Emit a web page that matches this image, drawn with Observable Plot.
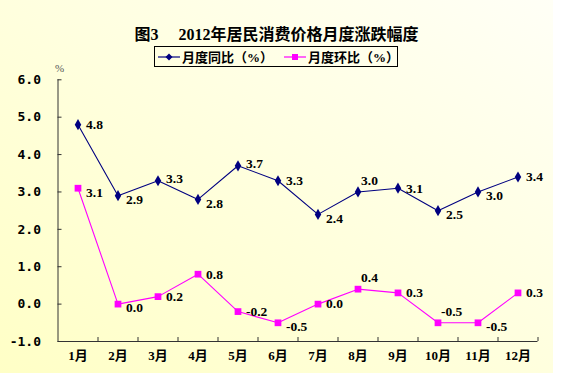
<!DOCTYPE html>
<html><head><meta charset="utf-8">
<script src="https://cdn.jsdelivr.net/npm/d3@7"></script>
<script src="https://cdn.jsdelivr.net/npm/@observablehq/plot@0.6"></script>
<style>
body{margin:0;background:#fff;width:566px;height:377px;overflow:hidden;position:relative;}
#bg{position:absolute;left:0;top:0;width:553px;height:373px;background:linear-gradient(to bottom left,#FFFFF6,#FFFFC6);}
#title{position:absolute;left:0;width:553px;top:21px;text-align:center;white-space:pre;font:bold 16px "Liberation Serif","Noto Sans CJK SC";color:#000;}
#pct{position:absolute;left:55px;top:62px;font:11px "Liberation Serif","Noto Sans CJK SC";color:#555;}
#legend{position:absolute;left:154px;top:46px;width:242px;height:19px;border:1px solid #000;display:flex;align-items:center;font:bold 13px "Liberation Serif","Noto Sans CJK SC";white-space:nowrap;}
#legend .it{display:flex;align-items:center;margin-left:3px;margin-right:8px;}
#legend svg{margin-right:2px;}
#chart{position:absolute;left:0;top:70px;}
</style></head>
<body>
<div id="bg"></div>
<div id="title">图3　 2012年居民消费价格月度涨跌幅度</div>
<div id="pct">%</div>
<div id="legend"></div>
<div id="chart"></div>
<script>
const months = ["1月","2月","3月","4月","5月","6月","7月","8月","9月","10月","11月","12月"];
const yoy = [4.8, 2.9, 3.3, 2.8, 3.7, 3.3, 2.4, 3.0, 3.1, 2.5, 3.0, 3.4];
const mom = [3.1, 0.0, 0.2, 0.8, -0.2, -0.5, 0.0, 0.4, 0.3, -0.5, -0.5, 0.3];
const seriesNames = ["月度同比（%）", "月度环比（%）"];
const seriesColors = ["#000080", "#FF00FF"];
const yTicks = [-1, 0, 1, 2, 3, 4, 5, 6];
// label placement (style only): r = right, b = right-below, u = right-up, a = above
const yoyPlace = ["r","b","u","b","u","r","b","a","r","b","b","r"];
const momPlace = ["b","b","r","r","r","b","r","a","r","a","b","r"];

// legend
const legend = document.getElementById("legend");
seriesNames.forEach((name, i) => {
  const it = document.createElement("span");
  it.className = "it";
  const sym = i === 0
    ? `<path d="M11,1.5L14.5,5L11,8.5L7.5,5Z" fill="${seriesColors[i]}"/>`
    : `<rect x="8" y="2" width="6" height="6" fill="${seriesColors[i]}"/>`;
  it.innerHTML = `<svg width="22" height="10"><line x1="0" x2="22" y1="5" y2="5" stroke="${seriesColors[i]}" stroke-width="1.2"/>${sym}</svg><span>${name}</span>`;
  legend.appendChild(it);
});

const rows = (vals, series) => vals.map((v, i) => ({x: i + 1, v, series}));
const A = rows(yoy, 0), B = rows(mom, 1);
const offsets = {r: [8, 0], b: [8, 4], u: [8, -2], a: [3, -11]};
const labelFont = {fontFamily: "Liberation Serif", fontWeight: "bold", fontSize: 13.5, fill: "#000"};
function labels(data, place) {
  return Object.entries(offsets).map(([k, [dx, dy]]) =>
    Plot.text(data.filter((d, i) => place[i] === k), {
      x: "x", y: "v", text: d => d.v.toFixed(1), dx, dy, textAnchor: "start", ...labelFont
    }));
}

const plot = Plot.plot({
  width: 566, height: 307,
  marginTop: 9.3, marginBottom: 36, marginLeft: 57.5, marginRight: 28.5,
  style: {background: "transparent", overflow: "visible"},
  x: {type: "linear", domain: [0.5, 12.5]},
  y: {domain: [-1, 6]},
  marks: [
    Plot.ruleX([0.5], {stroke: "#333", strokeWidth: 1}),
    Plot.ruleY([-1], {stroke: "#333", strokeWidth: 1}),
    Plot.axisY({ticks: yTicks, tickSize: -4, tickFormat: () => "", label: null, stroke: "#333"}),
    Plot.axisY({ticks: yTicks, tickSize: 0, tickPadding: 17, tickFormat: d => d.toFixed(1), label: null,
      fontFamily: "DejaVu Sans Mono", fontWeight: "bold", fontSize: 13, fill: "#000"}),
    Plot.axisX({ticks: d3.range(1.5, 13, 1), tickSize: -4, tickFormat: () => "", label: null, stroke: "#333"}),
    Plot.axisX({ticks: d3.range(1, 13), tickSize: 0, tickPadding: 9, tickFormat: d => months[d - 1], label: null,
      fontFamily: "Liberation Serif, Noto Sans CJK SC", fontWeight: "bold", fontSize: 13, fill: "#000"}),
    Plot.line(A, {x: "x", y: "v", stroke: seriesColors[0], strokeWidth: 1.1}),
    Plot.line(B, {x: "x", y: "v", stroke: seriesColors[1], strokeWidth: 1.1}),
    Plot.dot(A, {x: "x", y: "v", symbol: "diamond", r: 3.4, fill: seriesColors[0], stroke: "none"}),
    Plot.dot(B, {x: "x", y: "v", symbol: "square", r: 3.8, fill: seriesColors[1], stroke: "none"}),
    ...labels(A, yoyPlace),
    ...labels(B, momPlace)
  ]
});
document.getElementById("chart").appendChild(plot);
</script>
</body></html>
